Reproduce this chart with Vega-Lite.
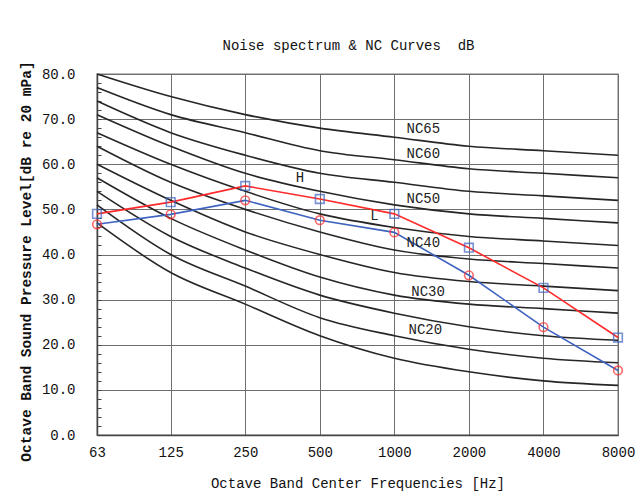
{
  "$schema": "https://vega.github.io/schema/vega-lite/v6.json",
  "width": 521,
  "height": 361,
  "autosize": "none",
  "padding": {"left": 97, "top": 74, "right": 18, "bottom": 60},
  "background": "white",
  "config": {
    "font": "Liberation Mono",
    "view": {"stroke": "#a6a6a6", "strokeWidth": 1.5}
  },
  "title": {
    "text": "Noise spectrum & NC Curves \u00a0dB",
    "font": "Liberation Mono",
    "fontSize": 14,
    "fontWeight": "normal",
    "color": "#111",
    "anchor": "middle",
    "dx": -9,
    "offset": 8
  },
  "datasets": {
    "nc": [
      {"nc": "NC15", "freq": 63, "spl": 47}, {"nc": "NC15", "freq": 125, "spl": 36}, {"nc": "NC15", "freq": 250, "spl": 29}, {"nc": "NC15", "freq": 500, "spl": 22}, {"nc": "NC15", "freq": 1000, "spl": 17}, {"nc": "NC15", "freq": 2000, "spl": 14}, {"nc": "NC15", "freq": 4000, "spl": 12}, {"nc": "NC15", "freq": 8000, "spl": 11},
      {"nc": "NC20", "freq": 63, "spl": 51}, {"nc": "NC20", "freq": 125, "spl": 40}, {"nc": "NC20", "freq": 250, "spl": 33}, {"nc": "NC20", "freq": 500, "spl": 26}, {"nc": "NC20", "freq": 1000, "spl": 22}, {"nc": "NC20", "freq": 2000, "spl": 19}, {"nc": "NC20", "freq": 4000, "spl": 17}, {"nc": "NC20", "freq": 8000, "spl": 16},
      {"nc": "NC25", "freq": 63, "spl": 54}, {"nc": "NC25", "freq": 125, "spl": 44}, {"nc": "NC25", "freq": 250, "spl": 37}, {"nc": "NC25", "freq": 500, "spl": 31}, {"nc": "NC25", "freq": 1000, "spl": 27}, {"nc": "NC25", "freq": 2000, "spl": 24}, {"nc": "NC25", "freq": 4000, "spl": 22}, {"nc": "NC25", "freq": 8000, "spl": 21},
      {"nc": "NC30", "freq": 63, "spl": 57}, {"nc": "NC30", "freq": 125, "spl": 48}, {"nc": "NC30", "freq": 250, "spl": 41}, {"nc": "NC30", "freq": 500, "spl": 35}, {"nc": "NC30", "freq": 1000, "spl": 31}, {"nc": "NC30", "freq": 2000, "spl": 29}, {"nc": "NC30", "freq": 4000, "spl": 28}, {"nc": "NC30", "freq": 8000, "spl": 27},
      {"nc": "NC35", "freq": 63, "spl": 60}, {"nc": "NC35", "freq": 125, "spl": 52}, {"nc": "NC35", "freq": 250, "spl": 45}, {"nc": "NC35", "freq": 500, "spl": 40}, {"nc": "NC35", "freq": 1000, "spl": 36}, {"nc": "NC35", "freq": 2000, "spl": 34}, {"nc": "NC35", "freq": 4000, "spl": 33}, {"nc": "NC35", "freq": 8000, "spl": 32},
      {"nc": "NC40", "freq": 63, "spl": 64}, {"nc": "NC40", "freq": 125, "spl": 56}, {"nc": "NC40", "freq": 250, "spl": 50}, {"nc": "NC40", "freq": 500, "spl": 45}, {"nc": "NC40", "freq": 1000, "spl": 41}, {"nc": "NC40", "freq": 2000, "spl": 39}, {"nc": "NC40", "freq": 4000, "spl": 38}, {"nc": "NC40", "freq": 8000, "spl": 37},
      {"nc": "NC45", "freq": 63, "spl": 67}, {"nc": "NC45", "freq": 125, "spl": 60}, {"nc": "NC45", "freq": 250, "spl": 54}, {"nc": "NC45", "freq": 500, "spl": 49}, {"nc": "NC45", "freq": 1000, "spl": 46}, {"nc": "NC45", "freq": 2000, "spl": 44}, {"nc": "NC45", "freq": 4000, "spl": 43}, {"nc": "NC45", "freq": 8000, "spl": 42},
      {"nc": "NC50", "freq": 63, "spl": 71}, {"nc": "NC50", "freq": 125, "spl": 64}, {"nc": "NC50", "freq": 250, "spl": 58}, {"nc": "NC50", "freq": 500, "spl": 54}, {"nc": "NC50", "freq": 1000, "spl": 51}, {"nc": "NC50", "freq": 2000, "spl": 49}, {"nc": "NC50", "freq": 4000, "spl": 48}, {"nc": "NC50", "freq": 8000, "spl": 47},
      {"nc": "NC55", "freq": 63, "spl": 74}, {"nc": "NC55", "freq": 125, "spl": 67}, {"nc": "NC55", "freq": 250, "spl": 62}, {"nc": "NC55", "freq": 500, "spl": 58}, {"nc": "NC55", "freq": 1000, "spl": 56}, {"nc": "NC55", "freq": 2000, "spl": 54}, {"nc": "NC55", "freq": 4000, "spl": 53}, {"nc": "NC55", "freq": 8000, "spl": 52},
      {"nc": "NC60", "freq": 63, "spl": 77}, {"nc": "NC60", "freq": 125, "spl": 71}, {"nc": "NC60", "freq": 250, "spl": 67}, {"nc": "NC60", "freq": 500, "spl": 63}, {"nc": "NC60", "freq": 1000, "spl": 61}, {"nc": "NC60", "freq": 2000, "spl": 59}, {"nc": "NC60", "freq": 4000, "spl": 58}, {"nc": "NC60", "freq": 8000, "spl": 57},
      {"nc": "NC65", "freq": 63, "spl": 80}, {"nc": "NC65", "freq": 125, "spl": 75}, {"nc": "NC65", "freq": 250, "spl": 71}, {"nc": "NC65", "freq": 500, "spl": 68}, {"nc": "NC65", "freq": 1000, "spl": 66}, {"nc": "NC65", "freq": 2000, "spl": 64}, {"nc": "NC65", "freq": 4000, "spl": 63}, {"nc": "NC65", "freq": 8000, "spl": 62}
    ],
    "spectrum": [
      {"series": "H", "freq": 63, "spl": 49.0}, {"series": "H", "freq": 125, "spl": 51.6}, {"series": "H", "freq": 250, "spl": 55.2}, {"series": "H", "freq": 500, "spl": 52.3}, {"series": "H", "freq": 1000, "spl": 49.0}, {"series": "H", "freq": 2000, "spl": 41.5}, {"series": "H", "freq": 4000, "spl": 32.6}, {"series": "H", "freq": 8000, "spl": 21.6},
      {"series": "L", "freq": 63, "spl": 46.7}, {"series": "L", "freq": 125, "spl": 48.9}, {"series": "L", "freq": 250, "spl": 52.0}, {"series": "L", "freq": 500, "spl": 47.6}, {"series": "L", "freq": 1000, "spl": 44.9}, {"series": "L", "freq": 2000, "spl": 35.4}, {"series": "L", "freq": 4000, "spl": 23.9}, {"series": "L", "freq": 8000, "spl": 14.3}
    ],
    "labels": [
      {"label": "NC65", "freq": 1120, "spl": 67.8},
      {"label": "NC60", "freq": 1120, "spl": 62.2},
      {"label": "NC50", "freq": 1120, "spl": 52.3},
      {"label": "NC40", "freq": 1120, "spl": 42.5},
      {"label": "NC30", "freq": 1170, "spl": 31.8},
      {"label": "NC20", "freq": 1141, "spl": 23.2},
      {"label": "H", "freq": 400, "spl": 56.9},
      {"label": "L", "freq": 800, "spl": 48.5}
    ]
  },
  "encoding": {
    "x": {
      "field": "freq",
      "type": "quantitative",
      "scale": {"type": "log", "base": 2, "domain": [63, 8000], "nice": false},
      "axis": {
        "title": "Octave Band Center Frequencies [Hz]",
        "values": [63, 125, 250, 500, 1000, 2000, 4000, 8000],
        "labelExpr": "format(datum.value, 'd')",
        "grid": true,
        "gridColor": "#6e6e6e",
        "gridWidth": 1,
        "ticks": false,
        "domainColor": "#444",
        "domainWidth": 1.5,
        "labelFont": "Liberation Mono",
        "labelFontSize": 14,
        "labelColor": "#111",
        "labelPadding": 10,
        "labelFlush": false,
        "labelOverlap": false,
        "titleFont": "Liberation Mono",
        "titleFontSize": 14,
        "titleFontWeight": "normal",
        "titleColor": "#111",
        "titlePadding": 17
      }
    },
    "y": {
      "field": "spl",
      "type": "quantitative",
      "scale": {"domain": [0, 80], "nice": false, "zero": false},
      "axis": {
        "title": "Octave Band Sound Pressure Level[dB re 20 mPa]",
        "titleY": 187,
        "values": [0, 2, 4, 6, 8, 10, 12, 14, 16, 18, 20, 22, 24, 26, 28, 30, 32, 34, 36, 38, 40, 42, 44, 46, 48, 50, 52, 54, 56, 58, 60, 62, 64, 66, 68, 70, 72, 74, 76, 78, 80],
        "labelExpr": "datum.value % 10 === 0 ? format(datum.value, '.1f') : ''",
        "grid": true,
        "gridColor": "#6e6e6e",
        "gridOpacity": {"condition": {"test": "datum.value % 10 === 0", "value": 1}, "value": 0},
        "tickSize": -4,
        "tickColor": "#444",
        "domainColor": "#444",
        "domainWidth": 1.5,
        "labelFont": "Liberation Mono",
        "labelFontSize": 14,
        "labelColor": "#111",
        "labelPadding": 26,
        "labelFlush": false,
        "labelOverlap": false,
        "titleFont": "Liberation Mono",
        "titleFontSize": 14.5,
        "titleFontWeight": "bold",
        "titleColor": "#111",
        "titlePadding": 8
      }
    }
  },
  "layer": [
    {
      "data": {"name": "nc"},
      "mark": {"type": "line", "interpolate": "monotone", "color": "#262626", "strokeWidth": 1.6},
      "encoding": {"detail": {"field": "nc"}}
    },
    {
      "data": {"name": "spectrum"},
      "mark": {"type": "line", "strokeWidth": 1.6},
      "encoding": {
        "color": {"field": "series", "type": "nominal", "scale": {"domain": ["H", "L"], "range": ["#ff2a2a", "#3f63c0"]}, "legend": null}
      }
    },
    {
      "data": {"name": "spectrum"},
      "mark": {"type": "point", "filled": false, "size": 75, "strokeWidth": 1.6},
      "encoding": {
        "shape": {"field": "series", "type": "nominal", "scale": {"domain": ["H", "L"], "range": ["square", "circle"]}, "legend": null},
        "stroke": {"field": "series", "type": "nominal", "scale": {"domain": ["H", "L"], "range": ["#3f63c0", "#ff2a2a"]}, "legend": null}
      }
    },
    {
      "data": {"name": "labels"},
      "mark": {"type": "text", "font": "Liberation Mono", "fontSize": 14, "align": "left", "baseline": "middle", "color": "#222"},
      "encoding": {"text": {"field": "label"}}
    }
  ],
  "resolve": {"scale": {"color": "independent"}}
}
